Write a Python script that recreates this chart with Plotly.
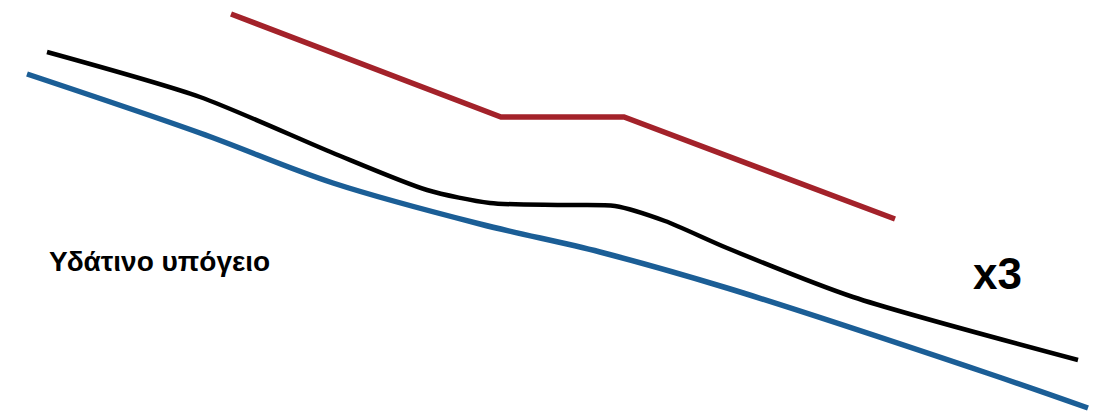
import plotly.graph_objects as go

# positions in the drawing's own coordinate space (x right, y down)
red_x = [231, 501, 624, 895]
red_y = [14, 117, 117, 219]

black_x = [47, 200, 333, 427, 490, 560, 615, 665, 727, 853, 1078]
black_y = [52, 97, 153, 190, 203, 205, 206, 221, 248, 297, 360]

blue_x = [27, 200, 333, 480, 600, 727, 987, 1088]
blue_y = [74, 133, 183, 224, 252, 288, 373, 408]

label_text = "Υδάτινο υπόγειο"
factor_text = "x3"

fig = go.Figure()

fig.add_trace(go.Scatter(x=blue_x, y=blue_y, mode="lines",
                         line=dict(color="#1b5e96", width=5.5, shape="spline", smoothing=1.0)))
fig.add_trace(go.Scatter(x=black_x, y=black_y, mode="lines",
                         line=dict(color="#000000", width=4.5, shape="spline", smoothing=0.7)))
fig.add_trace(go.Scatter(x=red_x, y=red_y, mode="lines",
                         line=dict(color="#a3222a", width=5.5)))

fig.add_annotation(x=47, y=261, text="<b>" + label_text + "</b>", showarrow=False,
                   xanchor="left", yanchor="middle",
                   font=dict(family="Liberation Sans", size=28, color="#000000"))
fig.add_annotation(x=997, y=273, text="<b>" + factor_text + "</b>", showarrow=False,
                   xanchor="center", yanchor="middle",
                   font=dict(family="Liberation Sans", size=44, color="#000000"))

# the page body has an 8px margin, so the figure covers 8..1100 of the window
fig.update_layout(
    width=1092,
    height=407,
    margin=dict(l=0, r=0, t=0, b=0),
    paper_bgcolor="white",
    plot_bgcolor="white",
    showlegend=False,
    xaxis=dict(range=[8, 1100], visible=False),
    yaxis=dict(range=[415, 8], visible=False),
)

fig.write_html("out.html")
